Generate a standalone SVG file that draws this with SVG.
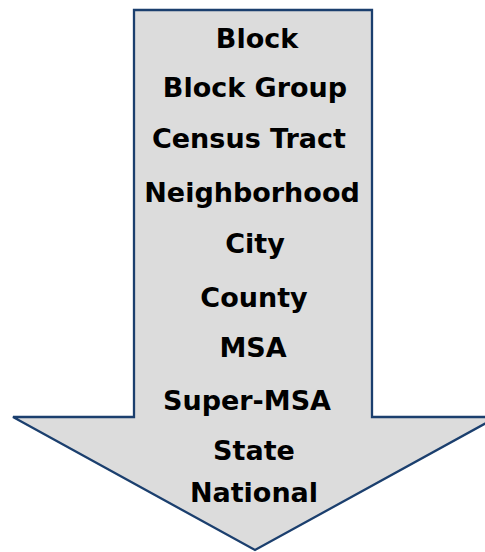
<svg xmlns="http://www.w3.org/2000/svg" width="485" height="552" viewBox="0 0 485 552">
<style>
.lbl{font-family:"DejaVu Sans","Liberation Sans",sans-serif;font-weight:bold;font-size:27px;fill:#000;text-anchor:middle}
</style>
<rect width="485" height="552" fill="#fff"/>
<g id="arrow">
<path d="M134,10 L372,10 L372,417 L497,417 L255,550 L13,417 L134,417 Z" fill="#dcdcdc" stroke="#1b3f6e" stroke-width="2.3" stroke-linejoin="miter"/>
</g>
<g id="labels">
<text class="lbl" x="257" y="48">Block</text>
<text class="lbl" x="255" y="97">Block Group</text>
<text class="lbl" x="249" y="148">Census Tract</text>
<text class="lbl" x="252" y="202">Neighborhood</text>
<text class="lbl" x="255" y="253">City</text>
<text class="lbl" x="254" y="307">County</text>
<text class="lbl" x="253" y="357">MSA</text>
<text class="lbl" x="247" y="410">Super-MSA</text>
<text class="lbl" x="254" y="460">State</text>
<text class="lbl" x="254" y="502">National</text>
</g>
</svg>
